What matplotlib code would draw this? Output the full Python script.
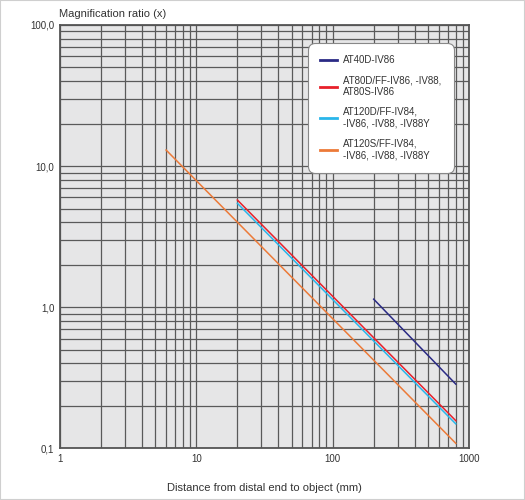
import matplotlib
matplotlib.use("Agg")
from matplotlib import pyplot as plt
from matplotlib import ticker
from matplotlib import patches

plt.rcParams['font.family'] = ['Liberation Sans', 'DejaVu Sans']

# Distance (mm) and magnification end points
at40_x = [200, 800]
at40_y = [1.14, 0.285]
at80_x = [20, 800]
at80_y = [5.75, 0.157]
at120d_x = [20, 800]
at120d_y = [5.45, 0.149]
at120s_x = [6, 800]
at120s_y = [13.0, 0.1085]

labels = ["AT40D-IV86",
          "AT80D/FF-IV86, -IV88,\nAT80S-IV86",
          "AT120D/FF-IV84,\n-IV86, -IV88, -IV88Y",
          "AT120S/FF-IV84,\n-IV86, -IV88, -IV88Y"]
colors = ['#2a2a85', '#e8202a', '#29b6ea', '#ec7a38']

x_ticks = [1, 10, 100, 1000]
x_ticklabels = ["1", "10", "100", "1000"]
y_ticks = [0.1, 1, 10, 100]
y_ticklabels = ["0,1", "1,0", "10,0", "100,0"]

fig = plt.figure(figsize=(5.25, 5.0), dpi=100)
ax = fig.add_axes([0.1143, 0.1034, 0.779, 0.8466])
ax.set_facecolor('#e6e6e7')

ax.set_xscale('log')
ax.set_yscale('log')
ax.set_xlim(1, 1000)
ax.set_ylim(0.1, 100)

ax.set_xticks(x_ticks)
ax.set_xticklabels(x_ticklabels)
ax.set_yticks(y_ticks)
ax.set_yticklabels(y_ticklabels)
ax.xaxis.set_minor_locator(ticker.LogLocator(base=10, subs=range(2, 10)))
ax.yaxis.set_minor_locator(ticker.LogLocator(base=10, subs=range(2, 10)))
ax.xaxis.set_minor_formatter(ticker.NullFormatter())
ax.yaxis.set_minor_formatter(ticker.NullFormatter())
ax.tick_params(which='both', length=0, labelsize=7, colors='#333333', pad=4)

ax.grid(True, which='both', color='#5a5a5a', linewidth=0.9)
ax.set_axisbelow(True)
for s in ax.spines.values():
    s.set_color('#555555')
    s.set_linewidth(1.3)

series = [(at40_x, at40_y), (at80_x, at80_y), (at120d_x, at120d_y), (at120s_x, at120s_y)]
for (xs, ys), c, lab in zip(series, colors, labels):
    ax.plot(xs, ys, color=c, linewidth=1.1, label=lab, zorder=3)

leg = ax.legend(loc='upper right', bbox_to_anchor=(0.963, 0.958), fontsize=7.0,
                frameon=True, fancybox=True, framealpha=1, edgecolor='#888888',
                handlelength=1.7, handletextpad=0.7, labelspacing=1.05,
                borderpad=1.25, borderaxespad=0, labelcolor='#333333')
leg.get_frame().set_linewidth(0.8)
leg.get_frame().set_boxstyle('round,pad=0,rounding_size=0.7')
for h in leg.get_lines():
    h.set_linewidth(2.0)

fig.text(0.1124, 0.972, "Magnification ratio (x)", fontsize=8, color='#333333',
         ha='left', va='center')
fig.text(0.503, 0.024, "Distance from distal end to object (mm)", fontsize=8,
         color='#333333', ha='center', va='center')

fig.patches.append(patches.Rectangle((0, 0), 1, 1, transform=fig.transFigure,
                                     fill=False, edgecolor='#cfcfcf', linewidth=1.5))

fig.savefig('out.png', dpi=100)
